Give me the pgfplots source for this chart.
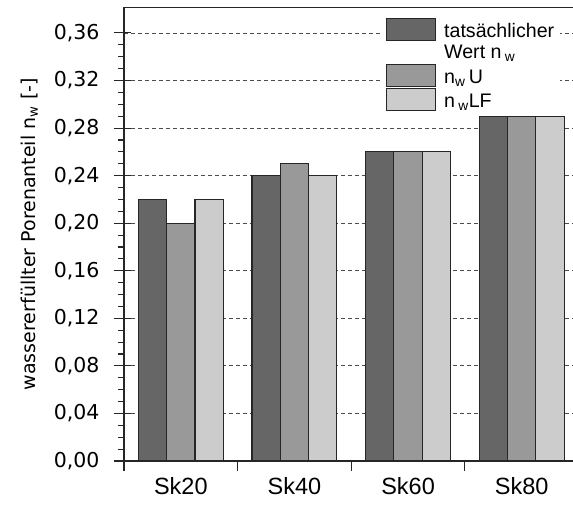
\documentclass[border=0pt]{standalone}
\usepackage{fontspec}
\setmainfont{Liberation Sans}
\newfontfamily\dejavu{DejaVu Sans}
\usepackage{pgfplots}
\pgfplotsset{compat=1.18}
\definecolor{barA}{HTML}{666666}
\definecolor{barB}{HTML}{999999}
\definecolor{barC}{HTML}{CCCCCC}

\begin{document}
\begin{tikzpicture}
\begin{axis}[
  scale only axis, width=454.5pt, height=453.5pt,
  xmin=-0.5, xmax=3.5, ymin=0, ymax=0.3814,
  ybar=0pt, bar width=28.3pt,
  axis line style={line width=1.1pt, black!85},
  tick style={line width=1.1pt, black!85},
  xtick={-0.5,0.5,1.5,2.5,3.5}, x tick label as interval,
  xticklabels={Sk20,Sk40,Sk60,Sk80},
  xtick pos=left, ytick pos=left,
  tick align=outside, major tick length=10pt,
  ytick={0,0.04,...,0.37}, minor y tick num=3, minor tick length=6pt,
  extra y ticks={0,0.04,0.08,0.12,0.16,0.20,0.24,0.28,0.32,0.36},
  extra y tick labels={},
  extra y tick style={tick align=inside, major tick length=7pt, ymajorgrids=false},
  ymajorgrids, major grid style={dashed, black!70, line width=0.8pt, dash pattern=on 4pt off 3pt},
  /pgf/number format/.cd, fixed, fixed zerofill, precision=2, use comma, assume math mode=true,
  /pgfplots/.cd,
  yticklabel style={font=\dejavu\fontsize{20.5}{24}\selectfont, xshift=-11pt},
  xticklabel style={font=\fontsize{23.5}{28}\selectfont, yshift=-3pt},
  every axis y label/.style={at={(axis description cs:-0.208,0.5)}, rotate=90, anchor=center,
    font=\dejavu\fontsize{19}{22}\selectfont},
  ylabel={wassererfüllter Porenanteil n\textsubscript{w} [-]},
  legend cell align=left,
  legend style={at={(axis description cs:0.563,0.9857)}, anchor=north west, draw=none, fill=white,
    inner xsep=6pt, inner ysep=3pt, font=\fontsize{19.6}{22}\selectfont, row sep=0pt,
    nodes={inner sep=0pt, text depth=4pt, anchor=base west}},
  legend image code/.code={\draw[#1, line width=1.1pt] (0pt,-3pt) rectangle (49pt,19pt);
    \path (57pt,0pt);},
]
\addplot[fill=barA, draw=black!85, line width=1.1pt] coordinates {(0,0.22) (1,0.24) (2,0.26) (3,0.29)};
\addlegendentry[text height=20pt, anchor=base west]{tatsächlicher}
\addlegendimage{empty legend}
\addlegendentry[text height=17pt, anchor=base west]{Wert n\,\textsubscript{w}}
\addplot[fill=barB, draw=black!85, line width=1.1pt] coordinates {(0,0.20) (1,0.25) (2,0.26) (3,0.29)};
\addlegendentry[text height=21pt, anchor=base west]{n\textsubscript{w}\,U}
\addplot[fill=barC, draw=black!85, line width=1.1pt] coordinates {(0,0.22) (1,0.24) (2,0.26) (3,0.29)};
\addlegendentry[text height=20pt, anchor=base west]{n\,\textsubscript{w}LF}
\end{axis}
\pgfresetboundingbox
\path[use as bounding box] (-124pt,-45pt) rectangle (449pt,461pt);
\end{tikzpicture}
\end{document}
